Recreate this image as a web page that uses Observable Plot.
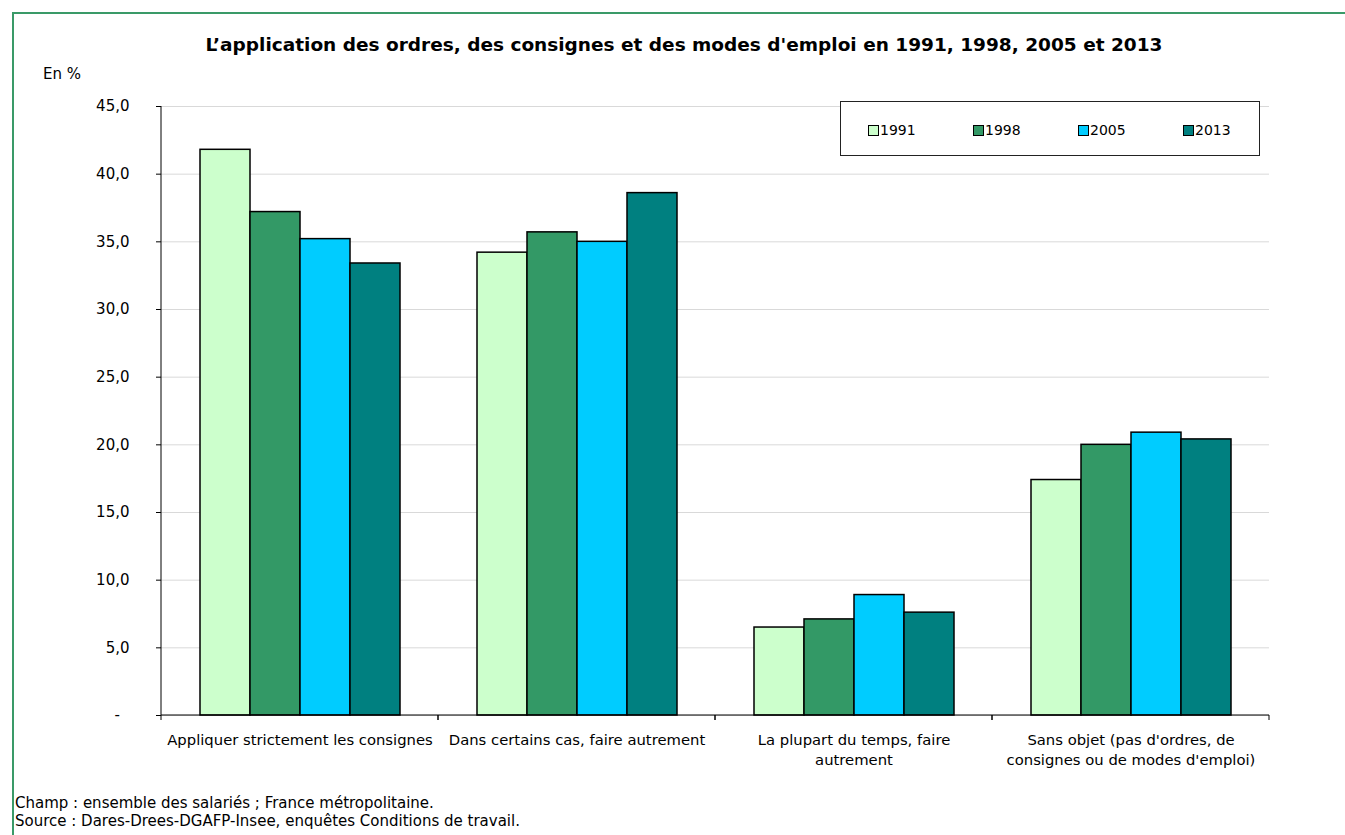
<!DOCTYPE html>
<html>
<head>
<meta charset="utf-8">
<script src="https://cdn.jsdelivr.net/npm/d3@7"></script>
<script src="https://cdn.jsdelivr.net/npm/@observablehq/plot@0.6"></script>
<style>
  html, body { margin: 0; padding: 0; background: #fff; }
  #page { position: relative; width: 1345px; height: 835px; overflow: hidden; font-family: "DejaVu Sans", Verdana, sans-serif; color: #000; }
  #border { position: absolute; left: 12px; top: 12px; width: 1345px; height: 840px; border-left: 2px solid #3a9a68; border-top: 2px solid #3a9a68; box-sizing: border-box; }
  #chart { position: absolute; left: 0; top: 0; }
  #title { position: absolute; left: 0; width: 1368px; top: 34px; text-align: center; font-weight: bold; font-size: 18.5px; }
  #unit { position: absolute; left: 43px; top: 65px; font-size: 15px; }
  #legend { position: absolute; left: 840px; top: 101px; width: 420px; height: 55px; box-sizing: border-box; border: 1px solid #222; background: #fff; }
  .item { position: absolute; top: 20px; font-size: 14px; display: flex; align-items: center; }
  .sw { width: 9px; height: 9px; border: 1.5px solid #000; margin-right: 1px; }
  #foot { position: absolute; left: 15px; top: 794px; font-size: 15px; line-height: 18px; }
</style>
</head>
<body>
<div id="page">
  <div id="border"></div>
  <div id="chart"></div>
  <div id="title"></div>
  <div id="unit"></div>
  <div id="legend"></div>
  <div id="foot"></div>
</div>
<script>
const titleText = "L\u2019application des ordres, des consignes et des modes d'emploi en 1991, 1998, 2005 et 2013";
const unitText = "En %";
const footLines = [
  "Champ : ensemble des salariés ; France métropolitaine.",
  "Source : Dares-Drees-DGAFP-Insee, enquêtes Conditions de travail."
];
const categories = [
  "Appliquer strictement les consignes",
  "Dans certains cas, faire autrement",
  "La plupart du temps, faire autrement",
  "Sans objet (pas d'ordres, de consignes ou de modes d'emploi)"
];
const categoryLabels = [
  "Appliquer strictement les consignes",
  "Dans certains cas, faire autrement",
  "La plupart du temps, faire\nautrement",
  "Sans objet (pas d'ordres, de\nconsignes ou de modes d'emploi)"
];
const years = ["1991", "1998", "2005", "2013"];
const values1991 = [41.8, 34.2, 6.5, 17.4];
const values1998 = [37.2, 35.7, 7.1, 20.0];
const values2005 = [35.2, 35.0, 8.9, 20.9];
const values2013 = [33.4, 38.6, 7.6, 20.4];
const colors = ["#ccffcc", "#339966", "#00ccff", "#008080"];
const yTicks = [0, 5, 10, 15, 20, 25, 30, 35, 40, 45];

const series = [values1991, values1998, values2005, values2013];
const data = [];
categories.forEach((c, i) => years.forEach((y, j) => data.push({category: c, year: y, value: series[j][i]})));

const fmt = d => d === 0 ? "-\u2007" : d.toFixed(1).replace(".", ",");

// axis line on the first facet + boundary ticks under each facet
function frameTicks(index, scales, values, dimensions, context) {
  if (!index.length) return null;
  const cat = categories[index[0]];
  const [r0, r1] = scales.x.range();
  const y0 = scales.y(0), yTop = scales.y(45);
  const g = d3.create("svg:g").attr("stroke", "#000").attr("stroke-width", 1);
  g.append("line").attr("x1", r0).attr("x2", r1).attr("y1", y0).attr("y2", y0);
  g.append("line").attr("x1", r0).attr("x2", r0).attr("y1", y0).attr("y2", y0 + 5);
  g.append("line").attr("x1", r1).attr("x2", r1).attr("y1", y0).attr("y2", y0 + 5);
  if (cat === categories[0]) {
    g.append("line").attr("x1", r0).attr("x2", r0).attr("y1", y0).attr("y2", yTop);
  }
  return g.node();
}

const chart = Plot.plot({
  width: 1345,
  height: 780,
  marginLeft: 160,
  marginRight: 75,
  marginTop: 106,
  marginBottom: 65,
  style: {fontFamily: "'DejaVu Sans', Verdana, sans-serif", fontSize: "15px", color: "#000", background: "transparent"},
  fx: {domain: categories, padding: 0, label: null},
  x: {domain: years, paddingInner: 0, paddingOuter: 0.77, axis: null},
  y: {domain: [0, 45], label: null},
  color: {domain: years, range: colors},
  marks: [
    Plot.gridY(yTicks, {stroke: "#d9d9d9", strokeOpacity: 1}),
    Plot.barY(data, {fx: "category", x: "year", y: "value", fill: "year", stroke: "#000", strokeWidth: 1.5}),
    Plot.ruleY(categories, {fx: d => d, y: () => 0, render: frameTicks}),
    Plot.axisY(yTicks, {tickSize: 5, tickPadding: 27, tickFormat: fmt, fontSize: 15}),
    Plot.axisFx({anchor: "bottom", tickSize: 0, tickPadding: 15, fontSize: 14.8, lineHeight: 1.35,
                 tickFormat: d => categoryLabels[categories.indexOf(d)], label: null})
  ]
});
document.getElementById("chart").appendChild(chart);

document.getElementById("title").textContent = titleText;
document.getElementById("unit").textContent = unitText;
const legend = document.getElementById("legend");
years.forEach((y, j) => {
  const it = document.createElement("div");
  it.className = "item";
  it.style.left = (27 + j * 105) + "px";
  const sw = document.createElement("span");
  sw.className = "sw";
  sw.style.background = colors[j];
  const tx = document.createElement("span");
  tx.textContent = y;
  it.appendChild(sw); it.appendChild(tx);
  legend.appendChild(it);
});
document.getElementById("foot").innerHTML = footLines.map(l => `<div>${l}</div>`).join("");
</script>
</body>
</html>
